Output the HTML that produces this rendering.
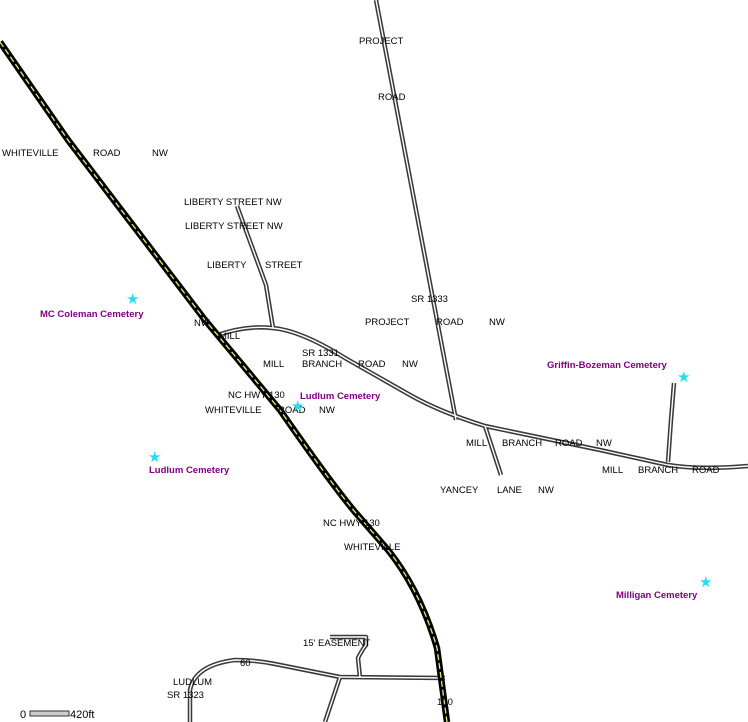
<!DOCTYPE html>
<html><head><meta charset="utf-8"><style>
html,body{margin:0;padding:0;background:#fff;}
svg{display:block;}
text{font-family:"Liberation Sans",Arial,sans-serif;font-size:9.5px;fill:#000;}
.c{font-weight:bold;fill:#800080;font-size:9.5px;}
</style></head><body>
<svg width="748" height="722" viewBox="0 0 748 722" xmlns="http://www.w3.org/2000/svg">
<defs>
<g id="roads">
<polyline points="376,0 456,420"/>
<polyline points="237,206 266,285 273,328"/>
<path d="M215,336 Q245,325 272,328 Q300,330 345,358 L410,395 Q440,412 485,426 L600,450 L668,465 Q700,470 748,466"/>
<polyline points="485,426 501,475"/>
<polyline points="674,383 671,420 668,462"/>
<path d="M190,722 L190,690 Q195,665 235,660 Q255,660 275,664 L340,677 L445,678"/>
<polyline points="340,677 325,722"/>
<path d="M360,678 L358,658 Q362,650 366,645 L366,637 L330,637"/>
</g>
<path id="hwp" d="M0,42 L68,140 L205,320 L280,410 Q330,482 355,512 Q375,535 388,550 Q420,590 437,648 L447,722"/>
</defs>
<g fill="none" stroke-linejoin="round">
<use href="#roads" stroke="#3a3a3a" stroke-width="4.5"/>
<use href="#roads" stroke="#fff" stroke-width="1.4"/>
<use href="#hwp" stroke="#000" stroke-width="6.5"/>
<use href="#hwp" stroke="#e8e870" stroke-width="1.3" stroke-dasharray="6,3"/>
</g>
<text x="359" y="44">PROJECT</text>
<text x="378" y="100">ROAD</text>
<text x="2" y="156">WHITEVILLE</text>
<text x="93" y="156">ROAD</text>
<text x="152" y="156">NW</text>
<text x="184" y="205">LIBERTY STREET NW</text>
<text x="185" y="229">LIBERTY  STREET  NW</text>
<text x="207" y="268">LIBERTY</text>
<text x="265" y="268">STREET</text>
<text x="411" y="302">SR 1333</text>
<text x="365" y="325">PROJECT</text>
<text x="436" y="325">ROAD</text>
<text x="489" y="325">NW</text>
<text x="194" y="326">NW</text>
<text x="219" y="339">MILL</text>
<text x="302" y="356">SR 1331</text>
<text x="263" y="367">MILL</text>
<text x="302" y="367">BRANCH</text>
<text x="358" y="367">ROAD</text>
<text x="402" y="367">NW</text>
<text x="228" y="398">NC HWY 130</text>
<text x="205" y="413">WHITEVILLE</text>
<text x="278" y="413">ROAD</text>
<text x="319" y="413">NW</text>
<text x="466" y="446">MILL</text>
<text x="502" y="446">BRANCH</text>
<text x="555" y="446">ROAD</text>
<text x="596" y="446">NW</text>
<text x="602" y="473">MILL</text>
<text x="638" y="473">BRANCH</text>
<text x="692" y="473">ROAD</text>
<text x="440" y="493">YANCEY</text>
<text x="497" y="493">LANE</text>
<text x="538" y="493">NW</text>
<text x="323" y="526">NC  HWY  130</text>
<text x="344" y="550">WHITEVILLE</text>
<text x="303" y="646">15' EASEMENT</text>
<text x="240" y="666">60</text>
<text x="173" y="685">LUDLUM</text>
<text x="167" y="698">SR 1323</text>
<text x="437" y="705">100</text>
<text class="c" x="40" y="317">MC Coleman Cemetery</text>
<text class="c" x="300" y="399">Ludlum Cemetery</text>
<text class="c" x="149" y="473">Ludlum Cemetery</text>
<text class="c" x="547" y="368">Griffin-Bozeman Cemetery</text>
<text class="c" x="616" y="598">Milligan Cemetery</text>
<g style="font-family:'DejaVu Sans',sans-serif">
<text x="126" y="304" style="fill:#22e0f0;font-size:15px">★</text>
<text x="291" y="411" style="fill:#22e0f0;font-size:15px">★</text>
<text x="148" y="462" style="fill:#22e0f0;font-size:15px">★</text>
<text x="677" y="382" style="fill:#22e0f0;font-size:15px">★</text>
<text x="699" y="587" style="fill:#22e0f0;font-size:15px">★</text>
</g>
<text x="20" y="718" style="font-size:11px">0</text>
<rect x="30" y="711" width="39" height="5" fill="#ccc" stroke="#333" stroke-width="1"/>
<text x="70" y="718" style="font-size:11px">420ft</text>
</svg>
</body></html>
